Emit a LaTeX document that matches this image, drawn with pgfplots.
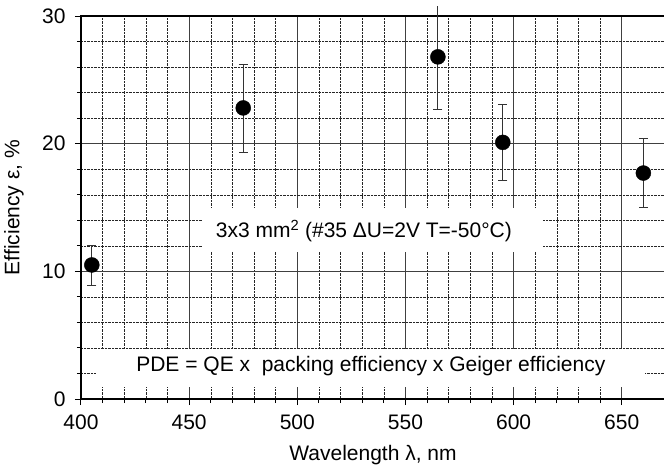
\documentclass[border=0pt]{standalone}
\usepackage{pgfplots}
\pgfplotsset{compat=1.18}
\usepackage{fontspec}
\setmainfont{Liberation Sans}
\begin{document}
\begin{tikzpicture}[font=\fontsize{21}{25}\selectfont]
\begin{axis}[
  scale only axis,
  width=584pt, height=383pt,
  xmin=400, xmax=670, ymin=0, ymax=30,
  xtick={400,450,...,650}, ytick={0,10,20,30},
  minor x tick num=4, minor y tick num=4,
  grid=both,
  major grid style={black!75, line width=1pt},
  minor grid style={black!85, densely dotted, line width=0.45pt},
  axis line style={black, line width=1.3pt},
  tick style={black, line width=1pt},
  xtick pos=bottom, ytick pos=left, tick align=outside,
  major tick length=6pt, minor tick length=4pt,
  /pgf/number format/assume math mode=true,
  xticklabel style={yshift=-6pt},
  yticklabel style={xshift=-6pt},
  xlabel={Wavelength λ, nm},
  ylabel={Efficiency ε, \%},
  xlabel style={at={(axis description cs:0.5,-0.1462)}, anchor=center},
  ylabel style={at={(axis description cs:-0.1147,0.5)}, anchor=center},
  clip=false,
]
\coordinate (sw) at (rel axis cs:0,0);
\fill[white] (axis cs:455.9,11.5) rectangle (axis cs:613.5,15.0);
\node at (axis cs:530.8,13.15) {3x3 mm\textsuperscript{2} (\#35 ΔU=2V T=-50°C)};
\fill[white] (axis cs:406.9,0.94) rectangle (axis cs:660.7,3.92);
\node at (axis cs:534,2.58) {PDE = QE x\ \ packing efficiency x Geiger efficiency};
\addplot[only marks, mark=none, forget plot,
  error bars/.cd, y dir=plus, y explicit, error mark=none,
  error bar style={line width=1.1pt, black!80}]
  coordinates {(565,26.8) +- (0,4.0)};
\addplot[only marks, mark=*, mark size=7.5pt, black,
  error bars/.cd, y dir=both, y explicit,
  error bar style={line width=1.1pt, black!80},
  error mark options={rotate=90, mark size=4.5pt, line width=1.1pt, black!80}]
  table[x=x, y=y, y error plus=ep, y error minus=em] {
x y ep em
405 10.5 1.5 1.6
475 22.8 3.4 3.5
565 26.8 0 4.1
595 20.1 3.0 3.0
660 17.7 2.7 2.7
};
\end{axis}
\pgfresetboundingbox
\useasboundingbox ([xshift=-81pt,yshift=-73pt]sw) rectangle ++(664pt,472pt);
\end{tikzpicture}
\end{document}
